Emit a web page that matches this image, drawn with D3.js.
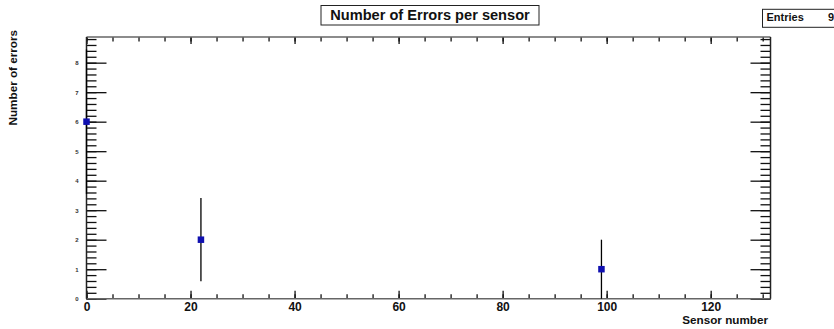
<!DOCTYPE html>
<html>
<head>
<meta charset="utf-8">
<script src="https://cdn.jsdelivr.net/npm/d3@7"></script>
<style>
  body { margin: 0; background: #fff; }
  svg { display: block; font-family: "Liberation Sans", Arial, sans-serif; }
</style>
</head>
<body>
<div id="chart"></div>
<script>
// data
var sensors = [0, 22, 99];
var errors = [6, 2, 1];
var errorBars = [2.45, 1.41, 1.0];
var xTicks = [0, 20, 40, 60, 80, 100, 120];
var xMinor = d3.range(0, 131, 5);
var yTicks = [0, 1, 2, 3, 4, 5, 6, 7, 8];
var yMinor = d3.range(0, 8.87, 0.2);
var entries = 9;

var W = 834, H = 329;
var frame = {left: 86.5, right: 770.5, top: 37, bottom: 298.7};

var svg = d3.select("#chart").append("svg")
    .attr("width", W).attr("height", H);

var x = d3.scaleLinear().domain([0, 131.5]).range([frame.left, frame.right]);
var y = d3.scaleLinear().domain([0, 8.87]).range([frame.bottom, frame.top]);

// axes, ROOT style: ticks point into the frame
function axisGroup(axis, tx, ty) {
    var g = svg.append("g")
        .attr("transform", "translate(" + tx + "," + ty + ")")
        .call(axis);
    g.select(".domain").remove();
    g.selectAll(".tick line").attr("stroke", "#111").attr("stroke-width", 1.3);
    return g;
}

var bottom = axisGroup(d3.axisBottom(x).tickValues(xTicks).tickSize(-8).tickPadding(3.5), 0, frame.bottom);
bottom.selectAll("text")
    .attr("font-size", "12px").attr("font-weight", "bold").attr("fill", "#111")
    .attr("font-family", "Liberation Sans, Arial, sans-serif");
axisGroup(d3.axisBottom(x).tickValues(xMinor).tickSize(-4.5).tickFormat(""), 0, frame.bottom);
axisGroup(d3.axisTop(x).tickValues(xTicks).tickSize(-7).tickFormat(""), 0, frame.top);
axisGroup(d3.axisTop(x).tickValues(xMinor).tickSize(-4.5).tickFormat(""), 0, frame.top);

var left = axisGroup(d3.axisLeft(y).tickValues(yTicks).tickSize(-20).tickPadding(8), frame.left, 0);
left.selectAll("text")
    .attr("font-size", "6px").attr("font-weight", "bold").attr("fill", "#333")
    .attr("font-family", "Liberation Sans, Arial, sans-serif");
axisGroup(d3.axisLeft(y).tickValues(yMinor).tickSize(-10).tickFormat(""), frame.left, 0);
axisGroup(d3.axisRight(y).tickValues(yTicks).tickSize(-20).tickFormat(""), frame.right, 0);
axisGroup(d3.axisRight(y).tickValues(yMinor).tickSize(-10).tickFormat(""), frame.right, 0);

// frame
svg.append("line").attr("x1", frame.left).attr("x2", frame.right)
    .attr("y1", frame.top).attr("y2", frame.top)
    .attr("stroke", "#666").attr("stroke-width", 1.6);
svg.append("line").attr("x1", frame.left).attr("x2", frame.right)
    .attr("y1", frame.bottom).attr("y2", frame.bottom)
    .attr("stroke", "#666").attr("stroke-width", 1.6);
svg.append("line").attr("x1", frame.left).attr("x2", frame.left)
    .attr("y1", frame.top).attr("y2", frame.bottom)
    .attr("stroke", "#222").attr("stroke-width", 1.5);
svg.append("line").attr("x1", frame.right).attr("x2", frame.right)
    .attr("y1", frame.top).attr("y2", frame.bottom)
    .attr("stroke", "#222").attr("stroke-width", 1.5);

// error bars
svg.selectAll(".err").data(sensors).enter().append("line")
    .attr("class", "err")
    .attr("x1", function(d) { return x(d); })
    .attr("x2", function(d) { return x(d); })
    .attr("y1", function(d, i) { return y(Math.max(0, errors[i] - errorBars[i])); })
    .attr("y2", function(d, i) { return y(errors[i] + errorBars[i]); })
    .attr("stroke", "#000").attr("stroke-width", 1.3);

// markers
var ms = 6.5;
svg.selectAll(".pt").data(sensors).enter().append("rect")
    .attr("class", "pt")
    .attr("x", function(d) { return x(d) - ms / 2; })
    .attr("y", function(d, i) { return y(errors[i]) - ms / 2; })
    .attr("width", ms).attr("height", ms)
    .attr("fill", "#1010b0");

// axis titles
svg.append("text")
    .attr("x", 768).attr("y", 324)
    .attr("text-anchor", "end")
    .attr("font-size", "11.7px").attr("font-weight", "bold").attr("fill", "#111")
    .text("Sensor number");

svg.append("text")
    .attr("transform", "translate(16.5,30) rotate(-90)")
    .attr("text-anchor", "end")
    .attr("font-size", "11.7px").attr("font-weight", "bold").attr("fill", "#111")
    .text("Number of errors");

// title box
svg.append("rect")
    .attr("x", 321).attr("y", 5.5).attr("width", 218).attr("height", 19.5)
    .attr("fill", "#fff").attr("stroke", "#222").attr("stroke-width", 1);
svg.append("text")
    .attr("x", 430).attr("y", 19.5)
    .attr("text-anchor", "middle")
    .attr("font-size", "14.6px").attr("font-weight", "bold").attr("fill", "#111")
    .text("Number of Errors per sensor");

// stats box
svg.append("rect")
    .attr("x", 762.5).attr("y", 9.3).attr("width", 80).attr("height", 18)
    .attr("fill", "#fff").attr("stroke", "#222").attr("stroke-width", 1);
svg.append("text")
    .attr("x", 766.5).attr("y", 20.5)
    .attr("font-size", "11px").attr("font-weight", "bold").attr("fill", "#111")
    .text("Entries");
svg.append("text")
    .attr("x", 834).attr("y", 20.5)
    .attr("text-anchor", "end")
    .attr("font-size", "11px").attr("font-weight", "bold").attr("fill", "#111")
    .text(entries);
</script>
</body>
</html>
